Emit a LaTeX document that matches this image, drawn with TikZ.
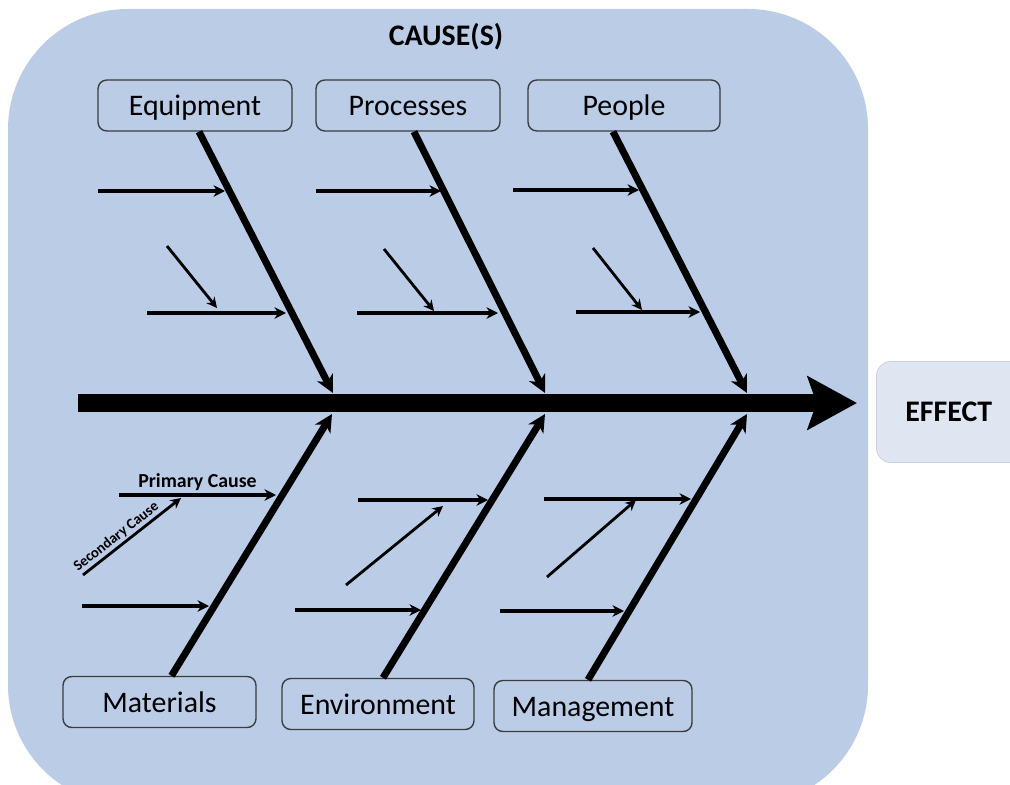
\documentclass[tikz,border=0pt]{standalone}
\usepackage{fontspec}
\setmainfont{Carlito}
\usetikzlibrary{arrows.meta,calc}

\definecolor{causeblue}{RGB}{187,204,231}
\definecolor{effectfill}{RGB}{222,230,242}
\definecolor{effectline}{RGB}{200,208,222}
\definecolor{boxline}{RGB}{60,60,60}

\tikzset{
  catbox/.style={draw=boxline, line width=0.8pt, rounded corners=5pt, fill=causeblue,
    minimum height=1.02cm, inner sep=0pt, text height=14pt, text depth=2.5pt,
    font=\fontsize{17}{20}\selectfont},
  spine/.style={line width=10.8pt, -{Stealth[length=28pt,width=30pt,inset=5pt]}},
  bone/.style={line width=4pt, -{Stealth[length=10pt,width=10pt,inset=3pt]}},
  twig/.style={line width=2pt, -{Stealth[length=6.5pt,width=6.5pt,inset=2pt]}},
  subtwig/.style={line width=1.6pt, -{Stealth[length=6pt,width=6pt,inset=2pt]}},
}

\begin{document}
\begin{tikzpicture}[x=0.02cm,y=-0.02cm]
    % Background
    \useasboundingbox (0,0) rectangle (1010,784);
    \clip (0,0) rectangle (1010,784);
    \fill[causeblue, rounded corners=2.4cm] (8,9) rectangle (868,805);
    \node[font=\bfseries\fontsize{17}{20}\selectfont] (causes) at (446,37) {CAUSE(S)};
    \node[draw=effectline, fill=effectfill, rounded corners=8pt, minimum width=3.06cm,
      minimum height=2.02cm, text depth=0pt, font=\bfseries\fontsize{17}{20}\selectfont,
      text width=2.2cm, align=left] (effect) at (953,412) {\hspace*{4.2pt}EFFECT};
    % Categories
    \node[catbox, minimum width=3.88cm] (equip) at (195,105.5) {Equipment};
    \node[catbox, minimum width=3.68cm] (proc) at (408,105.5) {Processes};
    \node[catbox, minimum width=3.84cm] (people) at (624,105.5) {People};
    \node[catbox, minimum width=3.86cm] (mater) at (159.5,702) {Materials};
    \node[catbox, minimum width=3.84cm] (envir) at (378,704) {Environment};
    \node[catbox, minimum width=3.96cm] (manag) at (593,706) {Management};
    % Spine
    \coordinate (tail) at (78,403);
    \coordinate (head) at (857,403);
    \draw[spine] (tail) -- (head);
    % Bones
    \coordinate (equiptip) at (333,393);
    \coordinate (proctip) at (545,393);
    \coordinate (peopletip) at (747,393);
    \coordinate (matertip) at (332,414);
    \coordinate (envirtip) at (545,414);
    \coordinate (managtip) at (747,414);
    \foreach \cat/\dx in {equip/4, proc/6, people/-11}
      \draw[bone] ([xshift=\dx*0.02cm]\cat.south) -- (\cat tip);
    \foreach \cat/\dx in {mater/12, envir/5, manag/-5}
      \draw[bone] ([xshift=\dx*0.02cm]\cat.north) -- (\cat tip);
    % Causes
    \foreach \t/\sx/\sy/\ex/\ey in {eqa/98/191/225/191, eqc/147/313/286/313,
        pra/316/191/441/191, prc/357/313/498/313,
        pea/513/190/639/190, pec/576/312/700/312,
        mac/82/606/209/606,
        ena/358/500/488/500, enc/295/610/421/610,
        mna/544/499/691/499, mnc/500/611/624/611} {
      \coordinate (\t s) at (\sx,\sy);
      \coordinate (\t e) at (\ex,\ey);
      \draw[twig] (\t s) -- (\t e);
    }
    \foreach \t/\sx/\sy/\ex/\ey in {eqb/167/246/217/308, prb/384/249/434/311,
        peb/593/248/642/310, enb/346/585/443/506, mnb/547/577/636/500} {
      \coordinate (\t s) at (\sx,\sy);
      \coordinate (\t e) at (\ex,\ey);
      \draw[subtwig] (\t s) -- (\t e);
    }
    % Labels
    \coordinate (maas) at (119,495);
    \coordinate (maae) at (276,495);
    \draw[twig] (maas) -- node[above, inner sep=1.5pt, font=\bfseries\fontsize{11.3}{13}\selectfont] {Primary Cause} (maae);
    \coordinate (mabs) at (83,575);
    \coordinate (mabe) at (181,498);
    \draw[subtwig] (mabs) -- node[sloped, above, pos=0.4, inner sep=1pt, font=\bfseries\fontsize{8.4}{10}\selectfont] {Secondary Cause} (mabe);
\end{tikzpicture}
\end{document}
